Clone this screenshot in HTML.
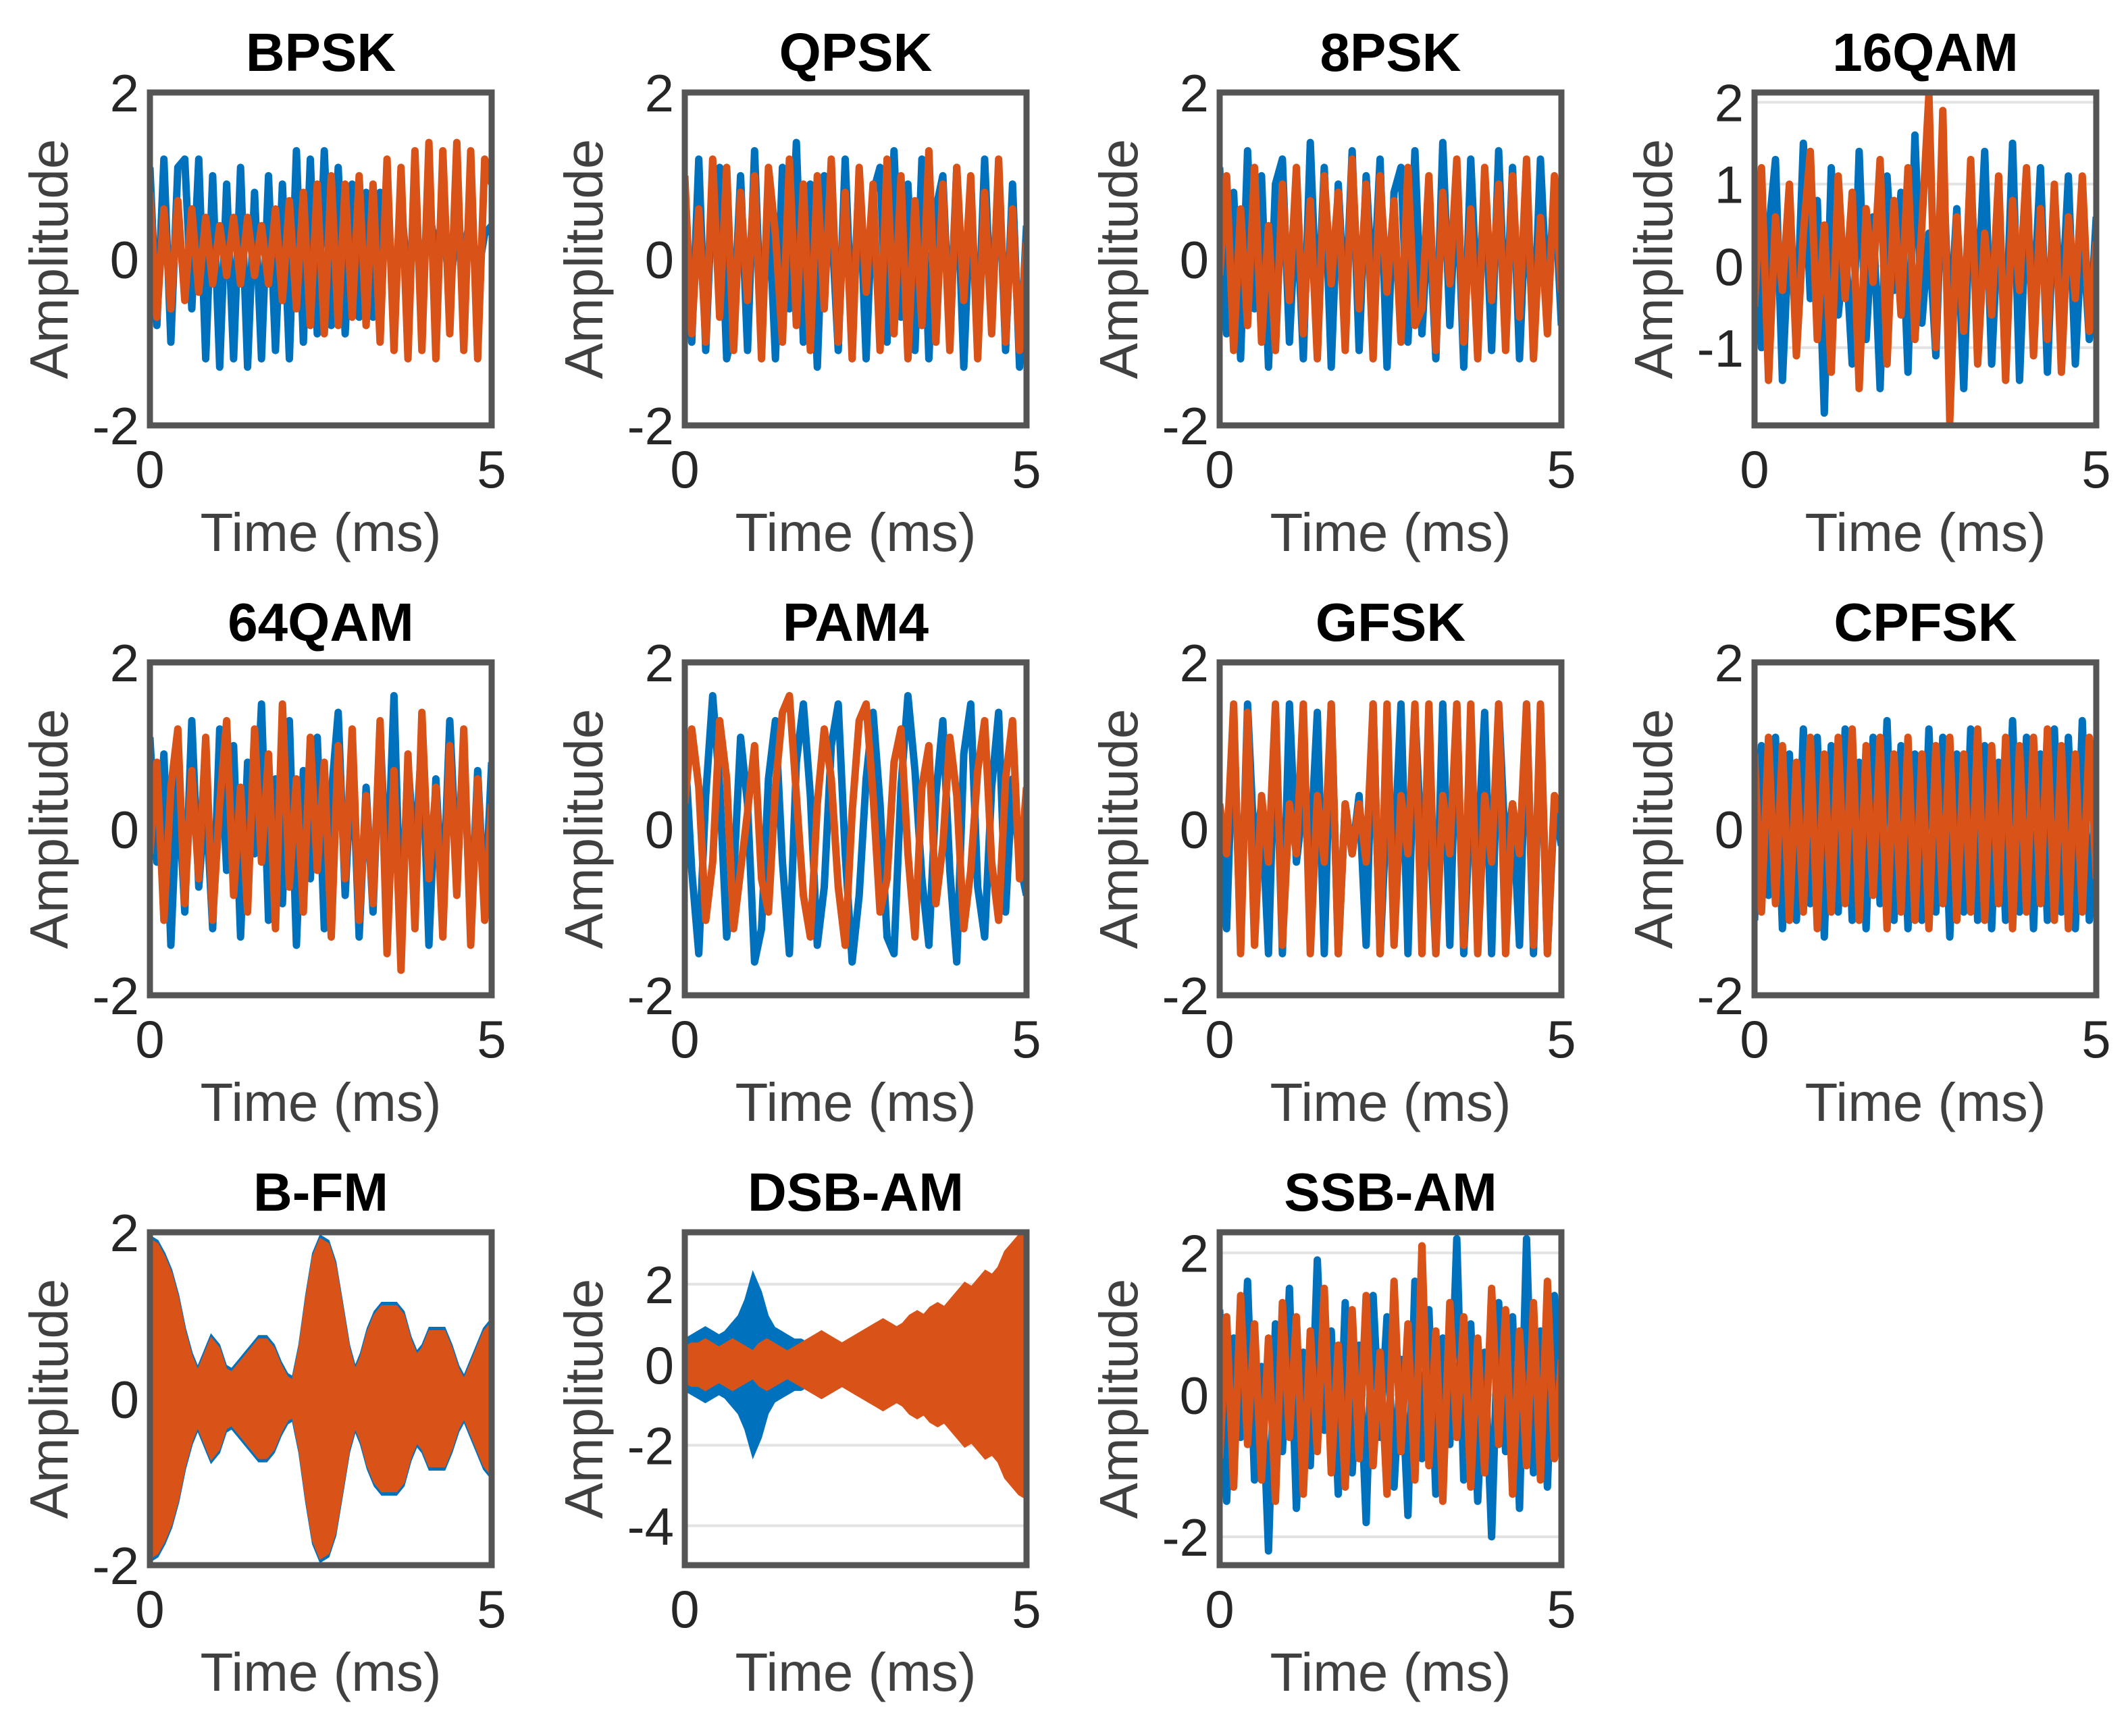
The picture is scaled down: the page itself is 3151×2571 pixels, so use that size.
<!DOCTYPE html>
<html><head><meta charset="utf-8"><style>
html,body{margin:0;padding:0;background:#fff}
svg{display:block}
text{font-family:"Liberation Sans",Arial,sans-serif}
</style></head><body>
<svg id="fig" width="3151" height="2571" viewBox="0 0 3151 2571" xmlns="http://www.w3.org/2000/svg"></svg>
<script>
// ---- data ----
const panelNames = ["BPSK","QPSK","8PSK","16QAM","64QAM","PAM4","GFSK","CPFSK","B-FM","DSB-AM","SSB-AM"];
const xTicks = [0,5];
const yTicksStd = [-2,0,2];
const yTicks16 = [-1,0,1,2];
const yTicksDSB = [-4,-2,0,2];
const yTicksSSB = [-2,0,2];
const yLims = [[-2,2],[-2,2],[-2,2],[-1.95,2.12],[-2,2],[-2,2],[-2,2],[-2,2],[-2,2],[-4.98,3.29],[-2.4,2.29]];

const bpskI = [1.1,-0.8,1.2,-1.0,1.1,1.2,-0.6,1.2,-1.2,1.0,-1.3,0.9,-1.2,1.1,-1.3,0.8,-1.2,1.0,-1.1,0.9,-1.2,1.3,-1.0,1.2,-0.9,1.3,-0.8,1.1,-0.9,0.9,-0.7,0.8,-0.7,0.8,0.6,-0.5,0.7,-0.3,0.5,-0.2,0.6,0.1,0.5,-0.4,0.4,0.1,0.5,-0.2,0.3,0.4];
const bpskQ = [0.8,-0.7,0.6,-0.6,0.7,-0.5,0.6,-0.4,0.5,-0.3,0.4,-0.2,0.5,-0.3,0.5,-0.2,0.4,-0.3,0.6,-0.5,0.7,-0.6,0.8,-0.8,0.9,-0.9,1.0,-0.8,0.9,-0.7,1.0,-0.8,0.9,-1.0,1.2,-1.1,1.1,-1.2,1.3,-1.1,1.4,-1.2,1.3,-0.9,1.4,-1.1,1.3,-1.2,1.2,0.9];
const qpskI = [0.8,-1.0,1.2,-1.1,0.9,1.1,-1.2,-0.8,1.0,-1.1,1.3,-0.9,0.7,-1.2,1.1,-0.6,1.4,-1.0,0.9,-1.3,1.0,0.5,-1.1,1.2,-0.9,1.0,-1.2,0.8,1.1,-1.0,1.3,-0.7,0.9,-1.1,1.2,-1.2,0.6,1.0,-0.9,1.1,-1.3,0.8,-1.0,1.2,-0.8,1.1,-1.1,0.9,-1.3,0.4];
const qpskQ = [1.0,-0.9,0.6,-1.0,1.2,-0.7,1.1,-1.1,0.8,-0.5,1.0,-1.2,1.1,0.3,-1.0,1.2,-0.8,0.9,-1.1,1.0,-0.6,1.2,-1.0,0.8,-1.2,1.1,-0.4,0.9,-1.1,1.2,-0.9,1.0,-1.2,0.7,-0.8,1.3,-1.0,0.9,-1.1,1.1,-0.5,1.0,-1.2,0.8,-0.9,1.2,-1.0,0.6,-1.1,0.2];
const psk8I = [1.1,-0.9,0.8,-1.2,1.3,-0.6,1.0,-1.3,0.9,1.2,-1.0,0.7,-1.2,1.4,-0.8,1.1,-1.3,0.9,-0.7,1.3,-1.1,1.0,-0.5,1.2,-1.3,0.8,1.1,-1.0,1.3,-0.9,0.6,-1.2,1.4,-0.8,1.0,-1.3,1.2,-0.7,0.9,-1.1,1.3,-0.9,1.1,-1.2,0.8,-1.0,1.2,-0.6,0.9,-0.8];
const psk8Q = [-0.2,1.0,-1.1,0.6,-0.8,1.1,-1.0,0.4,-1.1,0.9,-0.5,1.1,-0.9,0.7,-1.2,1.0,-0.3,0.8,-1.1,1.2,-0.6,0.9,-1.2,1.0,-0.4,0.7,-1.0,1.1,-0.8,-0.6,1.0,-1.1,0.8,-0.3,1.2,-1.0,0.6,-1.2,1.1,-0.5,0.9,-1.1,1.0,-0.7,1.2,-1.2,0.5,-0.9,1.0,-0.4];
const qam16I = [0.9,-1.0,0.4,1.3,-1.4,0.5,-0.8,1.5,-0.4,0.8,-1.8,1.2,-0.6,0.3,-1.2,1.4,-0.9,0.6,-1.5,1.1,-0.3,0.9,-1.3,1.6,-0.7,0.4,-1.1,1.3,-0.8,0.7,-1.5,1.0,-0.4,1.4,-1.2,0.6,-0.9,1.5,-1.4,0.8,-0.5,1.2,-1.3,0.9,-0.6,1.1,-1.2,0.5,-0.9,0.6];
const qam16Q = [-0.5,1.2,-1.4,0.6,-0.3,1.0,-1.1,0.4,1.4,-0.9,0.5,-1.3,1.1,-0.4,0.9,-1.5,0.7,-0.2,1.3,-1.2,0.8,-0.6,1.2,-0.9,0.5,2.1,-1.0,1.9,-1.9,0.6,-0.8,1.3,-1.2,0.4,-0.6,1.1,-1.4,0.8,-0.3,1.2,-1.1,0.7,-0.9,1.0,-1.3,0.6,-0.4,1.1,-0.8,0.3];
const qam64I = [1.1,-0.4,0.9,-1.4,0.6,-1.0,1.3,-0.7,0.4,-1.2,1.2,-0.5,1.0,-1.3,0.8,-0.3,1.5,-1.1,0.6,-0.9,1.3,-1.4,0.7,-0.6,1.1,-1.2,0.4,1.4,-0.8,0.9,-1.3,0.5,-1.0,1.2,-0.7,1.6,-1.3,0.8,-0.4,1.1,-1.4,0.6,-0.9,1.3,-0.5,1.0,-1.2,0.7,-1.0,0.8];
const qam64Q = [-0.3,0.8,-1.1,0.5,1.2,-0.9,0.7,-0.6,1.1,-1.1,0.3,1.3,-0.8,0.5,-1.0,1.2,-0.4,0.9,-1.2,1.5,-0.7,0.6,-1.0,1.1,-0.5,0.8,-1.3,1.0,-0.6,1.2,-1.1,0.4,-0.9,1.3,-1.5,0.7,-1.7,0.9,-1.2,1.4,-0.6,0.5,-1.3,1.0,-0.8,1.2,-1.4,0.6,-1.1,0.3];
const pam4I = [1.0,-0.5,-1.5,0.4,1.6,0.5,-1.3,-0.6,1.1,0.3,-1.6,-1.2,0.6,1.3,-0.4,-1.5,0.8,1.5,0.4,-1.4,-0.7,1.0,1.5,-0.3,-1.6,-0.8,0.6,1.4,0.3,-1.3,-1.5,0.5,1.6,0.7,-0.6,-1.4,0.4,1.3,-0.5,-1.6,0.9,1.5,-0.7,-1.3,0.5,1.4,-1.0,0.6,-0.4,-0.8];
const pam4Q = [0.3,1.2,0.5,-1.1,-0.4,1.3,0.6,-1.2,-0.5,0.2,1.0,-0.6,-1.0,0.5,1.4,1.6,0.4,-0.8,-1.3,0.3,1.2,0.6,-0.7,-1.4,0.2,1.3,1.5,0.4,-1.0,-0.6,0.8,1.2,-0.3,-1.3,0.5,1.0,-0.9,-0.2,1.1,0.4,-1.2,-0.5,0.7,1.3,-0.4,-1.1,0.6,1.3,-0.6,0.5];
const gfskI = [0.2,-1.2,1.4,-1.4,1.5,-0.3,0.3,-1.5,1.4,-1.5,1.5,-0.4,0.3,-0.3,1.4,-1.5,1.5,-1.5,0.3,-0.3,0.4,-1.4,1.5,-1.5,0.3,-0.4,1.5,-1.5,1.4,-0.3,0.3,-1.5,1.5,-1.4,1.5,-1.5,0.4,-0.3,1.4,-1.5,1.5,-0.3,0.3,-1.4,1.5,-1.5,1.4,-1.5,0.3,-0.2];
const gfskQ = [0.3,-0.3,1.5,-1.5,1.4,-1.4,0.4,-0.4,1.5,-1.4,0.3,-0.3,1.5,-1.5,0.4,-0.4,1.5,-1.5,0.3,-0.3,0.3,-0.4,1.5,-1.5,1.5,-1.4,0.4,-0.3,1.5,-1.5,1.5,-1.5,0.4,-0.3,1.5,-1.4,1.5,-1.5,0.4,-0.4,1.5,-1.5,0.3,-0.3,1.5,-1.4,1.5,-1.5,0.4,0.2];
const cpfskI = [-1.1,1.0,-0.8,1.1,-1.2,0.9,-1.1,1.2,-0.9,1.1,-1.3,1.0,-1.0,1.2,-1.1,0.8,-1.2,1.1,-0.9,1.3,-1.1,1.0,-1.2,0.9,-1.1,1.2,-1.0,1.1,-1.3,0.9,-1.0,1.2,-1.1,1.0,-1.2,0.8,-1.1,1.3,-1.0,1.1,-1.2,0.9,-1.1,1.2,-1.0,1.1,-1.2,1.3,-1.1,0.5];
const cpfskQ = [0.9,-1.0,1.1,-0.9,1.0,-1.1,0.8,-1.0,1.1,-1.2,0.9,-1.0,1.1,-0.9,1.2,-1.1,1.0,-0.8,1.1,-1.2,0.9,-1.0,1.1,-1.1,0.9,-1.2,1.0,-0.9,1.1,-1.1,0.9,-1.0,1.2,-1.1,1.0,-0.9,1.1,-1.2,1.0,-1.0,1.1,-0.9,1.2,-1.1,1.0,-1.2,0.9,-1.0,1.1,-0.6];
const ssbI = [1.2,-1.5,0.8,-0.6,1.6,-1.2,0.4,-2.2,1.0,-0.8,1.5,-1.6,0.6,-1.0,1.9,-0.5,0.9,-1.4,1.3,-1.1,0.7,-1.8,1.4,-0.6,1.1,-1.3,0.5,-1.7,1.6,-0.9,1.2,-1.4,0.8,-0.7,2.2,-1.2,1.0,-1.5,0.6,-2.0,1.3,-0.8,1.1,-1.6,2.2,-1.1,0.9,-1.3,1.4,-0.8];
const ssbQ = [-0.9,1.1,-1.3,1.4,-0.7,1.0,-1.2,0.8,-1.5,1.3,-0.6,1.1,-1.4,0.9,-0.8,1.5,-1.1,0.7,-1.3,1.2,-0.9,1.4,-1.0,0.6,-1.4,1.6,-0.8,1.0,-1.2,2.1,-1.0,0.9,-1.5,1.3,-0.6,1.1,-1.3,0.8,-1.1,1.5,-0.7,1.2,-1.4,0.9,-1.0,1.3,-1.2,1.6,-0.9,0.5];
const bfmEnv = [1.9,1.85,1.7,1.5,1.2,0.8,0.5,0.3,0.5,0.7,0.6,0.35,0.3,0.4,0.5,0.6,0.7,0.7,0.6,0.4,0.25,0.2,0.6,1.2,1.7,1.9,1.85,1.6,1.1,0.6,0.3,0.5,0.8,1.0,1.1,1.1,1.1,1.0,0.7,0.5,0.6,0.8,0.8,0.8,0.6,0.35,0.2,0.4,0.6,0.8,0.9];
const dsbBlueEnv = [0.6,0.7,0.8,0.9,0.8,0.7,0.8,1.0,1.2,1.6,2.2,1.8,1.2,0.9,0.8,0.7,0.6,0.6,0.5,0.5,0.5,0.5,0.5,0.5,0.5,0.5,0.5,0.5,0.5,0.5,0.5,0.5,0.5,0.5,0.5,0.5,0.5,0.5,0.5,0.5,0.5,0.5,0.5,0.5,0.5,0.5,0.5,0.5,0.5,0.5,0.5];
const dsbOrangeEnv = [0.4,0.5,0.5,0.6,0.5,0.4,0.5,0.6,0.5,0.4,0.3,0.5,0.6,0.5,0.4,0.3,0.4,0.5,0.6,0.7,0.8,0.7,0.6,0.5,0.6,0.7,0.8,0.9,1.0,1.1,1.0,0.9,1.0,1.2,1.3,1.2,1.4,1.5,1.4,1.6,1.8,2.0,1.9,2.1,2.3,2.2,2.4,2.8,3.0,3.2,3.3];

// ---- layout ----
const NS = "http://www.w3.org/2000/svg";
const svg = document.getElementById('fig');
const colX = [222,1014,1806,2598], rowY = [137,981,1825], PW = 506, PH = 493;
const BLUE = "#0072BD", ORANGE = "#D95319";
function mk(tag, attrs, parent){ const e = document.createElementNS(NS, tag); for (const k in attrs) e.setAttribute(k, attrs[k]); (parent||svg).appendChild(e); return e; }

function panel(idx, yTicks, grid, drawFn){
  const L = colX[idx%4], T = rowY[Math.floor(idx/4)];
  const [ymin, ymax] = yLims[idx];
  const sx = t => L + t/5*PW;
  const sy = v => T + (ymax - v)/(ymax - ymin)*PH;
  const slug = panelNames[idx].toLowerCase().replace(/[^a-z0-9]/g,'');
  const g = mk('g', {});
  
  
  const cp = mk('clipPath', {id:'cp'+idx}, g);
  mk('rect', {x:L, y:T, width:PW, height:PH}, cp);
  if (grid) yTicks.forEach(v => {
    const gl = mk('line', {x1:L, x2:L+PW, y1:sy(v), y2:sy(v), stroke:'#e3e3e3', 'stroke-width':4}, g);
    
    
  });
  const plot = mk('g', {'clip-path':'url(#cp'+idx+')'}, g);
  drawFn(plot, sx, sy);
  const box = mk('rect', {x:L, y:T, width:PW, height:PH, fill:'none', stroke:'#555', 'stroke-width':9}, g);
  
  
  yTicks.forEach(v => {
    const t = mk('text', {x:L-16, y:sy(v)+28, 'text-anchor':'end', 'font-size':78, fill:'#262626'}, g);
    t.textContent = String(v);
    
    
  });
  xTicks.forEach(v => {
    const t = mk('text', {x:sx(v), y:T+PH+92, 'text-anchor':'middle', 'font-size':78, fill:'#262626'}, g);
    t.textContent = v;
    
    
  });
  const xl = mk('text', {x:L+PW/2, y:T+PH+186, 'text-anchor':'middle', 'font-size':80, fill:'#404040'}, g);
  xl.textContent = 'Time (ms)';
  
  
  const yl = mk('text', {x:0, y:0, 'text-anchor':'middle', 'font-size':80, fill:'#404040', transform:`translate(${L-122},${T+PH/2}) rotate(-90)`}, g);
  yl.textContent = 'Amplitude';
  
  
  const ti = mk('text', {x:L+PW/2, y:T-32, 'text-anchor':'middle', 'font-size':80, 'font-weight':'bold', fill:'#000'}, g);
  ti.textContent = panelNames[idx];
  
  
}

function line(parent, vals, color, sx, sy, name){
  const n = vals.length;
  const pts = vals.map((v,i) => sx(i/(n-1)*5).toFixed(1) + ',' + sy(v).toFixed(1)).join(' ');
  const p = mk('polyline', {points:pts, fill:'none', stroke:color, 'stroke-width':11, 'stroke-linejoin':'round'}, parent);
  
  
}
function env(parent, vals, color, sx, sy, name){
  const n = vals.length;
  const top = vals.map((v,i) => sx(i/(n-1)*5).toFixed(1) + ',' + sy(v).toFixed(1));
  const bot = vals.map((v,i) => sx(i/(n-1)*5).toFixed(1) + ',' + sy(-v).toFixed(1)).reverse();
  const p = mk('polygon', {points:top.concat(bot).join(' '), fill:color, stroke:color, 'stroke-width':6}, parent);
  
  
}

const pairs = [[bpskI,bpskQ],[qpskI,qpskQ],[psk8I,psk8Q],[qam16I,qam16Q],[qam64I,qam64Q],[pam4I,pam4Q],[gfskI,gfskQ],[cpfskI,cpfskQ]];
pairs.forEach((pr, i) => {
  panel(i, i===3 ? yTicks16 : yTicksStd, i===3, (g, sx, sy) => {
    line(g, pr[0], BLUE, sx, sy, 'in-phase-series');
    line(g, pr[1], ORANGE, sx, sy, 'quadrature-series');
  });
});
panel(8, yTicksStd, false, (g, sx, sy) => {
  env(g, bfmEnv.map(v => v + 0.04), BLUE, sx, sy, 'in-phase-envelope');
  env(g, bfmEnv, ORANGE, sx, sy, 'quadrature-envelope');
});
panel(9, yTicksDSB, true, (g, sx, sy) => {
  env(g, dsbBlueEnv, BLUE, sx, sy, 'in-phase-envelope');
  env(g, dsbOrangeEnv, ORANGE, sx, sy, 'quadrature-envelope');
});
panel(10, yTicksSSB, true, (g, sx, sy) => {
  line(g, ssbI, BLUE, sx, sy, 'in-phase-series');
  line(g, ssbQ, ORANGE, sx, sy, 'quadrature-series');
});
</script>
</body></html>
